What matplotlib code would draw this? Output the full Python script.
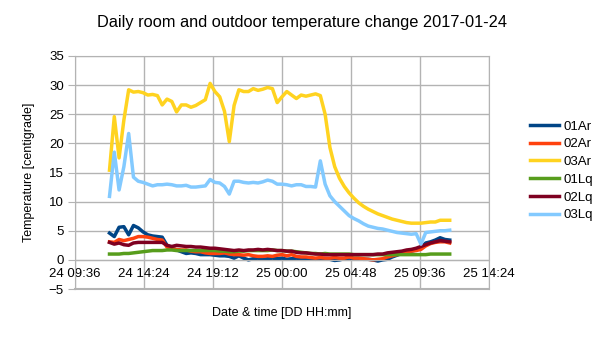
import numpy as np
import pandas as pd
import matplotlib
matplotlib.use("Agg")
import matplotlib.pyplot as plt
import matplotlib.dates as mdates

plt.rcParams['font.family'] = ['Liberation Sans', 'DejaVu Sans']

# readings every 20 minutes from 2017-01-24 12:00
times = pd.date_range("2017-01-24 12:00", periods=72, freq="20min")

ar01 = [4.6, 4.0, 5.6, 5.7, 4.3, 5.9, 5.5, 4.8, 4.3, 4.1, 4.0, 3.9, 2.5, 2.0, 1.7, 1.4,
        1.1, 1.2, 1.1, 0.9, 0.9, 0.9, 0.8, 0.7, 0.7, 0.6, 0.3, 0.7, 0.3, 0.0, 0.2, 0.3,
        0.1, 0.2, 0.3, 0.2, 0.3, 0.1, 0.2, 0.3, 0.1, 0.1, 0.2, 0.1, 0.2, 0.2, 0.1, -0.1,
        0.0, 0.2, 0.3, 0.2, 0.2, 0.1, 0.1, 0.0, -0.2, 0.0, 0.1, 0.5, 0.8, 1.1, 1.3, 1.5,
        1.7, 2.1, 2.9, 3.1, 3.4, 3.8, 3.5, 3.4]
ar02 = [3.1, 3.0, 3.5, 3.3, 3.5, 3.7, 4.0, 4.0, 3.9, 3.7, 3.5, 3.4, 2.2, 1.9, 1.8, 1.7,
        1.7, 1.5, 1.4, 1.4, 1.2, 1.1, 1.1, 1.1, 1.2, 1.0, 0.9, 0.9, 0.8, 0.9, 0.7, 0.6,
        0.6, 0.7, 0.6, 0.8, 0.9, 0.7, 0.9, 0.6, 0.5, 0.5, 0.4, 0.3, 0.4, 0.3, 0.3, 0.4,
        0.3, 0.3, 0.5, 0.3, 0.3, 0.2, 0.1, 0.0, 0.1, 0.2, 0.5, 0.7, 0.9, 1.1, 1.3, 1.5,
        1.6, 1.8, 2.4, 2.8, 3.0, 3.1, 3.1, 2.9]
ar03 = [15.4, 24.6, 17.5, 24.0, 29.2, 28.8, 28.9, 28.7, 28.3, 28.4, 28.2, 26.6, 27.6, 27.2, 25.4, 26.6,
        26.6, 26.2, 26.5, 27.0, 27.5, 30.3, 28.9, 28.0, 25.5, 20.3, 26.5, 29.2, 28.9, 28.9, 29.4, 29.1,
        29.3, 29.6, 29.4, 27.0, 28.0, 28.9, 28.3, 27.7, 28.3, 28.1, 28.3, 28.5, 28.2, 25.0, 19.3, 16.0,
        14.0, 12.6, 11.5, 10.6, 9.8, 9.2, 8.7, 8.3, 7.9, 7.6, 7.3, 7.0, 6.8, 6.6, 6.4, 6.3,
        6.3, 6.3, 6.4, 6.5, 6.5, 6.8, 6.8, 6.8]
lq01 = [1.0, 1.0, 1.0, 1.1, 1.1, 1.2, 1.3, 1.4, 1.5, 1.6, 1.6, 1.6, 1.7, 1.7, 1.6, 1.6,
        1.6, 1.6, 1.6, 1.6, 1.6, 1.6, 1.6, 1.5, 1.5, 1.4, 1.4, 1.5, 1.5, 1.6, 1.6, 1.6,
        1.6, 1.6, 1.7, 1.6, 1.6, 1.5, 1.5, 1.4, 1.3, 1.2, 1.1, 1.1, 1.0, 1.1, 1.0, 1.0,
        1.0, 1.0, 1.0, 0.9, 0.9, 0.9, 0.9, 0.9, 0.9, 0.9, 0.9, 0.9, 0.9, 0.9, 0.9, 0.9,
        0.9, 0.9, 0.9, 1.0, 1.0, 1.0, 1.0, 1.0]
lq02 = [3.0, 2.7, 2.9, 2.6, 2.5, 2.9, 3.0, 3.0, 3.0, 3.0, 3.0, 3.0, 2.5, 2.3, 2.5, 2.4,
        2.3, 2.3, 2.2, 2.2, 2.1, 2.0, 2.0, 1.9, 1.8, 1.7, 1.6, 1.7, 1.6, 1.7, 1.7, 1.8,
        1.7, 1.8, 1.7, 1.6, 1.6, 1.5, 1.5, 1.3, 1.2, 1.2, 1.1, 1.0, 1.0, 0.9, 0.9, 0.9,
        0.9, 0.9, 0.9, 0.9, 0.9, 0.9, 0.9, 0.9, 1.0, 1.0, 1.2, 1.3, 1.4, 1.5, 1.7, 1.8,
        2.0, 2.3, 2.6, 2.9, 3.1, 3.3, 3.2, 3.1]
lq03 = [10.9, 18.5, 12.0, 16.0, 21.7, 14.2, 13.5, 13.3, 13.0, 12.7, 12.9, 12.9, 13.0, 12.9, 12.7, 12.7,
        12.8, 12.5, 12.5, 12.6, 12.7, 13.8, 13.3, 13.2, 12.6, 11.3, 13.5, 13.5, 13.3, 13.2, 13.3, 13.2,
        13.4, 13.7, 13.5, 13.0, 13.0, 12.9, 12.7, 12.9, 12.9, 12.6, 12.6, 12.5, 17.0, 13.0, 11.0, 10.0,
        9.2, 8.4, 7.6, 7.1, 6.7, 6.2, 5.8, 5.6, 5.4, 5.3, 5.1, 4.9, 4.7, 4.6, 4.5, 4.4,
        4.5, 2.7, 4.7, 4.8, 4.9, 5.0, 5.0, 5.1]

names = ["01Ar", "02Ar", "03Ar", "01Lq", "02Lq", "03Lq"]
series = [ar01, ar02, ar03, lq01, lq02, lq03]
colors = ["#004586", "#ff420e", "#ffd320", "#579d1c", "#7e0021", "#83caff"]

fig = plt.figure(figsize=(6.05, 3.4), dpi=100)
ax = fig.add_axes([75 / 605, 1 - 289 / 340, 414 / 605, 233 / 340])

for name, vals, c in zip(names, series, colors):
    ax.plot(times, vals, color=c, lw=2.5, label=name, solid_joinstyle="round")

# x ticks every 4h48m starting 24 09:36
x0 = pd.Timestamp("2017-01-24 09:36")
xticks = [x0 + pd.Timedelta(minutes=288 * k) for k in range(7)]
ax.set_xlim(xticks[0], xticks[-1])
ax.set_xticks(xticks)
ax.xaxis.set_major_formatter(mdates.DateFormatter("%d %H:%M"))
ax.set_ylim(-5, 35)
ax.set_yticks(np.arange(-5, 36, 5))

ax.grid(True, color="#b3b3b3", lw=1)
ax.set_axisbelow(True)
for s in ax.spines.values():
    s.set_color("#b3b3b3")
ax.spines["bottom"].set_position(("data", 0))
ax.tick_params(axis="x", length=0, pad=6, labelsize=9.5, colors="black")
ax.tick_params(axis="y", length=5, color="#b3b3b3", pad=3, labelsize=9.5)

# frame line along the bottom at -5
ax.axhline(-5, color="#b3b3b3", lw=1.5, clip_on=False)

fig.text(302 / 605, 1 - 22 / 340, "Daily room and outdoor temperature change 2017-01-24",
         ha="center", va="center", fontsize=11.8)
fig.text(282 / 605, 1 - 313 / 340, "Date & time [DD HH:mm]", ha="center", va="center", fontsize=9)
fig.text(29 / 605, 1 - 172 / 340, "Temperature [centigrade]", ha="center", va="center",
         rotation=90, fontsize=9)

ax.legend(loc="upper left", bbox_to_anchor=(525 / 605, 1 - 115 / 340), bbox_transform=fig.transFigure,
          frameon=False, fontsize=9.5, handlelength=2.2, handletextpad=0.3, labelspacing=0.42,
          borderaxespad=0)

fig.savefig("out.png", dpi=100)
